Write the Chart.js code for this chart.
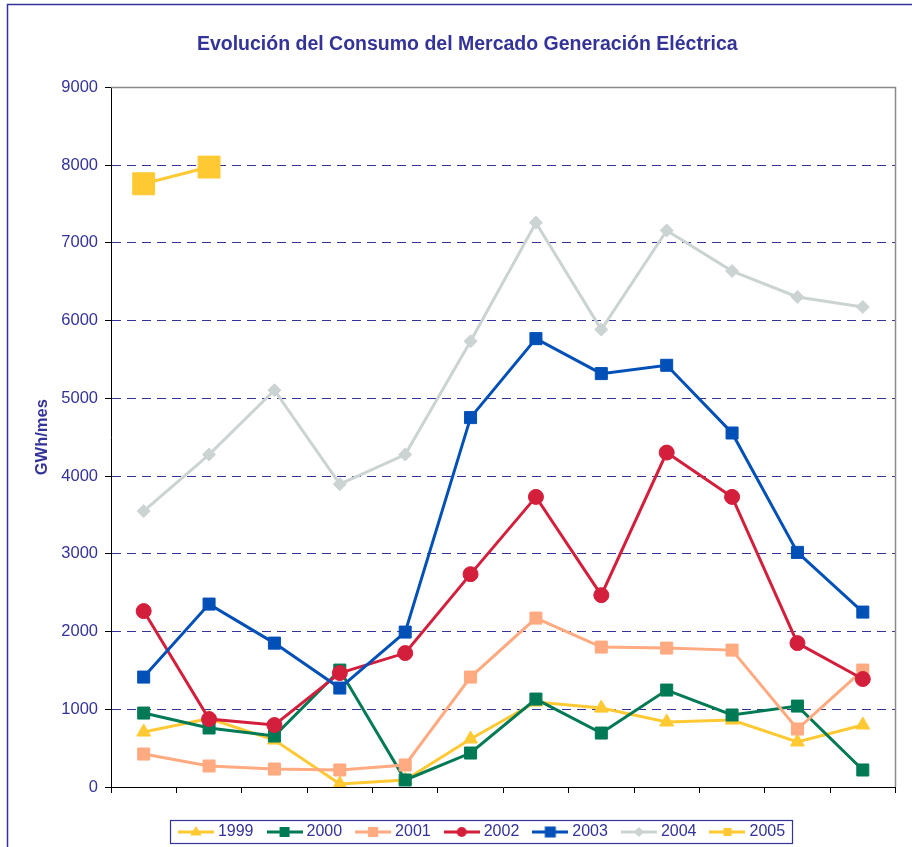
<!DOCTYPE html>
<html>
<head>
<meta charset="utf-8">
<script src="https://cdn.jsdelivr.net/npm/chart.js@4/dist/chart.umd.min.js"></script>
<style>
  html, body { margin: 0; padding: 0; background: #ffffff; }
  #wrap { width: 912px; height: 847px; }
</style>
</head>
<body>
<div id="wrap"><canvas id="c" width="912" height="847"></canvas></div>
<script>
// ---- data ----
const months = ['Ene','Feb','Mar','Abr','May','Jun','Jul','Ago','Sep','Oct','Nov','Dic'];
const yTicks = [0,1000,2000,3000,4000,5000,6000,7000,8000,9000];
const seriesNames = ['1999','2000','2001','2002','2003','2004','2005'];
const v1999 = [707, 880, 604, 39, 90, 617, 1093, 1015, 836, 861, 579, 797];
const v2000 = [951, 759, 656, 1504, 90, 437, 1131, 694, 1247, 926, 1041, 219];
const v2001 = [424, 270, 231, 219, 283, 1414, 2173, 1800, 1787, 1761, 746, 1504];
const v2002 = [2263, 874, 797, 1466, 1723, 2738, 3732, 2468, 4302, 3732, 1851, 1389];
const v2003 = [1414, 2353, 1851, 1273, 1993, 4752, 5768, 5318, 5425, 4554, 3018, 2250];
const v2004 = [3549, 4277, 5104, 3896, 4277, 5734, 7260, 5884, 7160, 6637, 6304, 6175];
const v2005 = [7760, 7975, null, null, null, null, null, null, null, null, null, null];
const titleText = 'Evolución del Consumo del Mercado Generación Eléctrica';
const yTitle = 'GWh/mes';

// ---- styles ----
const NAVY = '#333399';
const FONT = '"Liberation Sans", Arial, Helvetica, sans-serif';
const styles = [
  {color:'#FFC933', point:'triangle', r:8,   lg:{shape:'triangle', r:6}},
  {color:'#007A55', point:'rect',     r:8.5, lg:{shape:'rect', r:5}},
  {color:'#FFAA80', point:'rect',     r:8.5, lg:{shape:'rect', r:5}},
  {color:'#D41F3C', point:'circle',   r:7.5, lg:{shape:'circle', r:5}},
  {color:'#0050B8', point:'rect',     r:8.5, lg:{shape:'rect', r:5.5}},
  {color:'#CBD3D3', point:'rectRot',  r:6.5, lg:{shape:'rectRot', r:5}},
  {color:'#FFC933', point:'rect',     r:15.5,lg:{shape:'rect', r:4}}
];
const allValues = [v1999, v2000, v2001, v2002, v2003, v2004, v2005];

function legendImage(st) {
  const cv = document.createElement('canvas');
  cv.width = 36; cv.height = 16;
  const c = cv.getContext('2d');
  c.strokeStyle = st.color; c.fillStyle = st.color; c.lineWidth = 3;
  c.beginPath(); c.moveTo(0, 8); c.lineTo(36, 8); c.stroke();
  const x = 18, y = 8, r = st.lg.r;
  c.beginPath();
  if (st.lg.shape === 'triangle') {
    c.moveTo(x, y - r); c.lineTo(x + r * 0.95, y + r * 0.6); c.lineTo(x - r * 0.95, y + r * 0.6); c.closePath();
  } else if (st.lg.shape === 'rect') {
    c.rect(x - r, y - r, 2 * r, 2 * r);
  } else if (st.lg.shape === 'circle') {
    c.arc(x, y, r, 0, Math.PI * 2);
  } else if (st.lg.shape === 'rectRot') {
    c.moveTo(x, y - r); c.lineTo(x + r, y); c.lineTo(x, y + r); c.lineTo(x - r, y); c.closePath();
  }
  c.fill();
  return cv;
}
const legendImgs = styles.map(legendImage);

const datasets = seriesNames.map((name, i) => ({
  label: name,
  data: allValues[i],
  borderColor: styles[i].color,
  backgroundColor: styles[i].color,
  pointBackgroundColor: styles[i].color,
  pointBorderColor: styles[i].color,
  pointBorderWidth: 1,
  pointStyle: styles[i].point,
  pointRadius: styles[i].r,
  pointHoverRadius: styles[i].r,
  borderWidth: 3,
  tension: 0,
  fill: false,
  spanGaps: false,
  order: seriesNames.length - i
}));

const decor = {
  id: 'decor',
  afterLayout(chart) {
    const y = chart.scales.y;
    y.left = 20;
    y.width = y.right - y.left;
  },
  beforeDatasetsDraw(chart) {
    const {ctx, chartArea: a} = chart;
    ctx.save();
    ctx.strokeStyle = '#8a8a8a';
    ctx.lineWidth = 1.5;
    ctx.beginPath();
    ctx.moveTo(a.left, a.top);
    ctx.lineTo(a.right, a.top);
    ctx.lineTo(a.right, a.bottom);
    ctx.stroke();
    ctx.restore();
  },
  afterDraw(chart) {
    const ctx = chart.ctx;
    ctx.save();
    ctx.strokeStyle = NAVY;
    ctx.lineWidth = 1.5;
    ctx.strokeRect(7.5, 4.5, 1000, 1000);
    const hb = chart.legend.legendHitBoxes;
    if (hb && hb.length) {
      const f = hb[0], l = hb[hb.length - 1];
      const x1 = f.left - 12, x2 = l.left + l.width + 7;
      const cy = f.top + f.height / 2;
      ctx.lineWidth = 1.2;
      ctx.strokeRect(Math.round(x1) + 0.5, Math.round(cy - 12) + 0.5, Math.round(x2 - x1), 23);
    }
    ctx.restore();
  }
};

new Chart(document.getElementById('c'), {
  type: 'line',
  data: { labels: months, datasets },
  plugins: [decor],
  options: {
    responsive: false,
    animation: false,
    devicePixelRatio: 1,
    layout: { padding: { left: 67, right: 12, top: 0, bottom: -3 } },
    plugins: {
      title: {
        display: true,
        text: titleText + '      ',
        color: NAVY,
        font: { family: FONT, size: 19.5, weight: 'bold' },
        padding: { top: 33, bottom: 31 }
      },
      legend: {
        position: 'bottom',
        labels: {
          usePointStyle: true,
          pointStyleWidth: 28,
          padding: 17,
          color: NAVY,
          font: { family: FONT, size: 16 },
          sort: (a, b) => a.datasetIndex - b.datasetIndex,
          generateLabels(chart) {
            const items = Chart.defaults.plugins.legend.labels.generateLabels(chart);
            items.forEach(it => { it.pointStyle = legendImgs[it.datasetIndex]; });
            return items;
          }
        }
      },
      tooltip: { enabled: false }
    },
    scales: {
      x: {
        offset: true,
        grid: {
          offset: true,
          drawOnChartArea: false,
          drawTicks: true,
          tickLength: 6,
          tickColor: '#000000'
        },
        border: { color: '#000000', width: 1 },
        ticks: { display: false },
        afterFit(scale) { scale.height = 20; }
      },
      y: {
        min: 0,
        max: 9000,
        afterBuildTicks(scale) { scale.ticks = yTicks.map(v => ({ value: v })); },
        ticks: {
          color: NAVY,
          padding: 7,
          font: { family: FONT, size: 16.5 },
          callback: v => String(v)
        },
        grid: {
          color: ctx => (ctx.tick && (ctx.tick.value === 0 || ctx.tick.value === 9000)) ? 'rgba(0,0,0,0)' : NAVY,
          lineWidth: 1,
          tickLength: 6,
          tickColor: '#000000',
          drawTicks: true
        },
        border: { color: '#000000', width: 1, dash: [9, 6] },
        title: {
          display: true,
          text: yTitle,
          color: NAVY,
          font: { family: FONT, size: 16.5, weight: 'bold' },
          padding: { top: 13, bottom: 0 }
        },
        afterFit(scale) { scale.width = 44; }
      }
    }
  }
});
</script>
</body>
</html>
